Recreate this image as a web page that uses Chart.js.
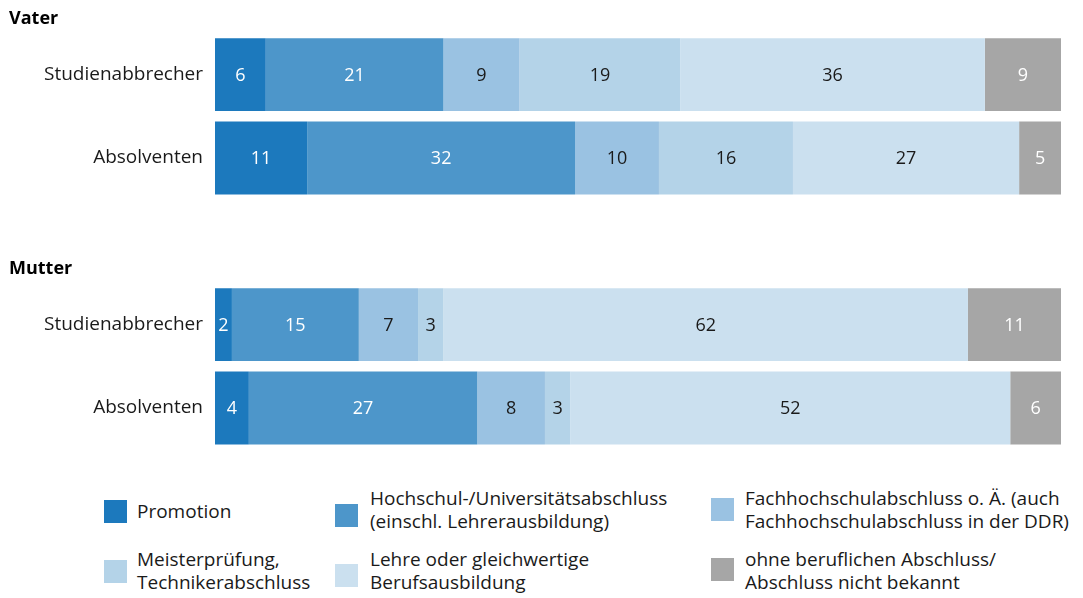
<!DOCTYPE html>
<html lang="de">
<head>
<meta charset="utf-8">
<title>Berufsabschluss der Eltern</title>
<script src="https://cdn.jsdelivr.net/npm/chart.js@4.4.1/dist/chart.umd.min.js"></script>
<style>
  html, body { margin: 0; padding: 0; background: #fff; }
  body { width: 1083px; height: 598px; position: relative; overflow: hidden;
         font-family: "Open Sans", "Noto Sans", sans-serif; color: #1a1a1a; }
  #wrap { position: absolute; left: 0; top: 0; width: 1083px; height: 465px; }
  .lg-box { position: absolute; width: 23px; height: 23px; }
  .lg-text { position: absolute; font-size: 19px; line-height: 23px; white-space: nowrap; }
</style>
</head>
<body>
<div id="wrap"><canvas id="chart"></canvas></div>
<div id="legend"></div>

<script>
// Gruppen und Zeilen
const groups = ['Vater', 'Mutter'];
const rows = ['Studienabbrecher', 'Absolventen'];

// Werte in % : Vater Studienabbrecher, Vater Absolventen, Mutter Studienabbrecher, Mutter Absolventen
const promotion     = [6, 11, 2, 4];
const hochschule    = [21, 32, 15, 27];
const fachhochschule = [9, 10, 7, 8];
const meister       = [19, 16, 3, 3];
const lehre         = [36, 27, 62, 52];
const ohne          = [9, 5, 11, 6];

const seriesLabels = [
    ['Promotion'],
    ['Hochschul-/Universitätsabschluss', '(einschl. Lehrerausbildung)'],
    ['Fachhochschulabschluss o. Ä. (auch', 'Fachhochschulabschluss in der DDR)'],
    ['Meisterprüfung,', 'Technikerabschluss'],
    ['Lehre oder gleichwertige', 'Berufsausbildung'],
    ['ohne beruflichen Abschluss/', 'Abschluss nicht bekannt']
];
const seriesValues = [promotion, hochschule, fachhochschule, meister, lehre, ohne];
const colors = ['#1c79bd', '#4d96ca', '#9ac2e2', '#b4d3e8', '#cbe0ef', '#a6a6a6'];
const labelColors = ['#ffffff', '#ffffff', '#1a1a1a', '#1a1a1a', '#1a1a1a', '#ffffff'];

// Kategorien mit Leerzeile zwischen den Gruppen
const categories = [rows[0], rows[1], '', rows[0], rows[1]];
const rowIndex = [0, 1, null, 2, 3];

// Zeilensummen (auf 100 % normieren)
const rowSums = promotion.map((_, i) => seriesValues.reduce((s, arr) => s + arr[i], 0));

const datasets = seriesValues.map((vals, k) => ({
    label: seriesLabels[k].join(' '),
    data: rowIndex.map(r => r === null ? null : vals[r] / rowSums[r] * 100),
    raw: rowIndex.map(r => r === null ? null : vals[r]),
    backgroundColor: colors[k],
    borderWidth: 0,
    barPercentage: 0.875,
    categoryPercentage: 1
}));

// Werte in die Balken schreiben
const valueLabels = {
    id: 'valueLabels',
    afterDatasetsDraw(chart) {
        const ctx = chart.ctx;
        ctx.save();
        ctx.font = '18px "Open Sans", sans-serif';
        ctx.textAlign = 'center';
        ctx.textBaseline = 'middle';
        chart.data.datasets.forEach((ds, k) => {
            const meta = chart.getDatasetMeta(k);
            meta.data.forEach((bar, i) => {
                if (ds.raw[i] === null) return;
                ctx.fillStyle = labelColors[k];
                ctx.fillText(String(ds.raw[i]), (bar.x + bar.base) / 2, bar.y + 1);
            });
        });
        ctx.restore();
    }
};

// Gruppentitel (Vater / Mutter)
const groupTitles = {
    id: 'groupTitles',
    afterDraw(chart) {
        const ctx = chart.ctx;
        const y = chart.scales.y;
        ctx.save();
        ctx.font = 'bold 18px "Open Sans", sans-serif';
        ctx.fillStyle = '#000';
        ctx.textAlign = 'left';
        ctx.textBaseline = 'middle';
        ctx.fillText(groups[0], 9, y.getPixelForValue(0) - 56);
        ctx.fillText(groups[1], 9, y.getPixelForValue(3) - 56);
        ctx.restore();
    }
};

new Chart(document.getElementById('chart'), {
    type: 'bar',
    data: { labels: categories, datasets: datasets },
    options: {
        indexAxis: 'y',
        responsive: true,
        maintainAspectRatio: false,
        animation: false,
        layout: { padding: { top: 33, bottom: 12, left: 0, right: 22 } },
        plugins: {
            legend: { display: false },
            tooltip: { enabled: false }
        },
        scales: {
            x: { stacked: true, min: 0, max: 100, display: false },
            y: {
                stacked: true,
                grid: { display: false },
                border: { display: false },
                ticks: {
                    color: '#1a1a1a',
                    padding: 4,
                    font: { family: '"Open Sans", sans-serif', size: 19 }
                },
                afterFit(scale) { scale.width = 215; }
            }
        }
    },
    plugins: [valueLabels, groupTitles]
});

// Legende (3 Spalten, 2 Zeilen)
const legendCols = [[104, 137], [335, 370], [711, 745]];
const legendRows = [{ text: 487, box: [500, 504, 498] }, { text: 548, box: [560, 564, 558] }];
const legendEl = document.getElementById('legend');
seriesLabels.forEach((lines, k) => {
    const col = k % 3, row = Math.floor(k / 3);
    const box = document.createElement('div');
    box.className = 'lg-box';
    box.style.left = legendCols[col][0] + 'px';
    box.style.top = legendRows[row].box[col] + 'px';
    box.style.background = colors[k];
    legendEl.appendChild(box);
    const txt = document.createElement('div');
    txt.className = 'lg-text';
    txt.style.left = legendCols[col][1] + 'px';
    txt.style.top = (lines.length === 1 ? legendRows[row].box[col] : legendRows[row].text) + 'px';
    txt.innerHTML = lines.join('<br>');
    legendEl.appendChild(txt);
});
</script>
</body>
</html>
